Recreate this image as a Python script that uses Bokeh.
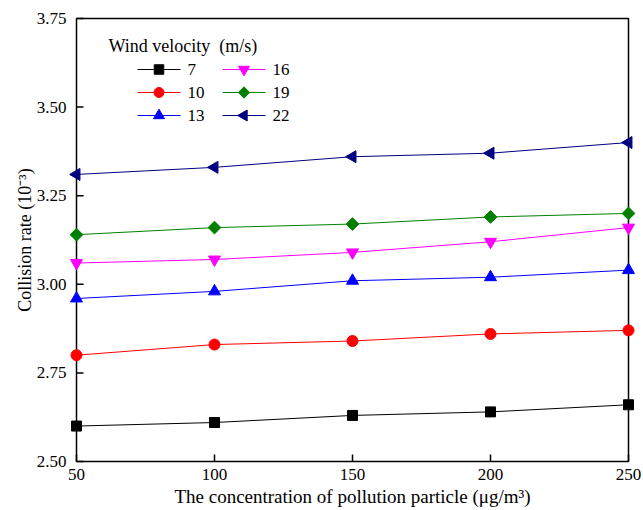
import numpy as np
from bokeh.plotting import figure
from bokeh.models import Range1d, FixedTicker, CustomJSTickFormatter
from bokeh.core.properties import value
from bokeh.embed import file_html
from bokeh.resources import INLINE

# ---------------- data ----------------
concentration = [50, 100, 150, 200, 250]
v7 = [2.60, 2.61, 2.63, 2.64, 2.66]
v10 = [2.80, 2.83, 2.84, 2.86, 2.87]
v13 = [2.96, 2.98, 3.01, 3.02, 3.04]
v16 = [3.06, 3.07, 3.09, 3.12, 3.16]
v19 = [3.14, 3.16, 3.17, 3.19, 3.20]
v22 = [3.31, 3.33, 3.36, 3.37, 3.40]
labels = ["7", "10", "13", "16", "19", "22"]
x_ticks = [50, 100, 150, 200, 250]
y_ticks = [2.50, 2.75, 3.00, 3.25, 3.50, 3.75]
legend_title = "Wind velocity\u00a0 (m/s)"

# ---------------- layout / style ----------------
FONT = "Liberation Serif"
W, H = 643, 510
BL, BR, BT, BB = 69, 8, 11, 42      # borders around the (padded) frame
PAD = 7                              # px between frame edge and plot box
TICK = 7                             # inward tick length, px
FW, FH = W - BL - BR, H - BT - BB
x_min, x_max = min(x_ticks), max(x_ticks)
y_min, y_max = min(y_ticks), max(y_ticks)
ux = (x_max - x_min) / (FW - 2 * PAD)   # data units per px
uy = (y_max - y_min) / (FH - 2 * PAD)

p = figure(width=W, height=H, output_backend="svg", toolbar_location=None,
           x_range=Range1d(x_min - PAD * ux, x_max + PAD * ux),
           y_range=Range1d(y_min - PAD * uy, y_max + PAD * uy),
           min_border_left=BL, min_border_right=BR, min_border_top=BT, min_border_bottom=BB)
p.extra_x_ranges = {"px": Range1d(0, FW)}
p.extra_y_ranges = {"py": Range1d(0, FH)}
p.grid.visible = False
p.outline_line_color = None
p.background_fill_color = "white"
p.border_fill_color = "white"

# plot box and inward ticks
p.quad(left=[x_min], right=[x_max], bottom=[y_min], top=[y_max],
       fill_color=None, line_color="black", line_width=1.5)
p.segment(x0=x_ticks, y0=[y_min] * len(x_ticks), x1=x_ticks, y1=[y_min + TICK * uy] * len(x_ticks),
          line_color="black", line_width=1.5)
p.segment(x0=[x_min] * len(y_ticks), y0=y_ticks, x1=[x_min + TICK * ux] * len(y_ticks), y1=y_ticks,
          line_color="black", line_width=1.5)

series = [
    (v7, "black", "square", 0.0, 10, 9.5),
    (v10, "red", "circle", 0.0, 11, 10),
    (v13, "blue", "triangle", 0.0, 12, 11),
    (v16, "magenta", "inverted_triangle", 0.0, 12, 11),
    (v19, "green", "square", np.pi / 4, 9, 8),
    (v22, "navy", "triangle", np.pi / 2, 12, 11),
]
for vals, color, marker, ang, size, _ in series:
    p.line(concentration, vals, line_color=color, line_width=1)
    p.scatter(concentration, vals, marker=marker, size=size, angle=ang,
              fill_color=color, line_color=color)

# ---------------- legend (pixel coordinates inside the frame) ----------------
LG_TITLE_X, LG_TITLE_Y = 39, FH - 34
LG_ROW0_Y, LG_ROW_DY = FH - 58, 23
LG_LINE_X0, LG_LINE_X1, LG_LABEL_X, LG_COL_DX = 68, 111, 118, 85

p.text(x=[LG_TITLE_X], y=[LG_TITLE_Y], text=[legend_title],
       x_range_name="px", y_range_name="py",
       text_font=value(FONT), text_font_size="18px", text_color="black",
       text_baseline="middle", text_align="left")
for i, (lab, (vals, color, marker, ang, size, lsize)) in enumerate(zip(labels, series)):
    col, row = i // 3, i % 3
    y = LG_ROW0_Y - row * LG_ROW_DY
    x0 = LG_LINE_X0 + col * LG_COL_DX
    x1 = LG_LINE_X1 + col * LG_COL_DX
    p.line([x0, x1], [y, y], line_color=color, line_width=1,
           x_range_name="px", y_range_name="py")
    p.scatter([(x0 + x1) / 2], [y], marker=marker, size=lsize, angle=ang,
              fill_color=color, line_color=color, x_range_name="px", y_range_name="py")
    p.text(x=[LG_LABEL_X + col * LG_COL_DX], y=[y], text=[lab],
           x_range_name="px", y_range_name="py",
           text_font=value(FONT), text_font_size="17px", text_color="black",
           text_baseline="middle", text_align="left")

# ---------------- axes ----------------
for ax in (p.xaxis[0], p.yaxis[0]):
    ax.major_label_text_font = FONT
    ax.major_label_text_font_size = "17px"
    ax.major_label_text_color = "black"
    ax.axis_label_text_font = FONT
    ax.axis_label_text_font_style = "normal"
    ax.axis_label_text_color = "black"
    ax.major_tick_in = 0
    ax.major_tick_out = 0
    ax.major_tick_line_color = None
    ax.minor_tick_line_color = None
    ax.axis_line_color = None

p.xaxis.axis_label_text_font_size = "19px"
p.yaxis.axis_label_text_font_size = "18px"
p.xaxis.ticker = FixedTicker(ticks=x_ticks)
p.yaxis.ticker = FixedTicker(ticks=y_ticks)
p.yaxis.formatter = CustomJSTickFormatter(code="return tick.toFixed(2);")
p.xaxis.axis_label = "The concentration of pollution particle (\u03bcg/m\u00b3)"
p.yaxis.axis_label = "Collision rate (10\u207b\u00b3)"
p.xaxis.major_label_standoff = 0
p.yaxis.major_label_standoff = 3
p.xaxis.axis_label_standoff = 3
p.yaxis.axis_label_standoff = -1

open("out.html", "w").write(file_html(p, INLINE))
